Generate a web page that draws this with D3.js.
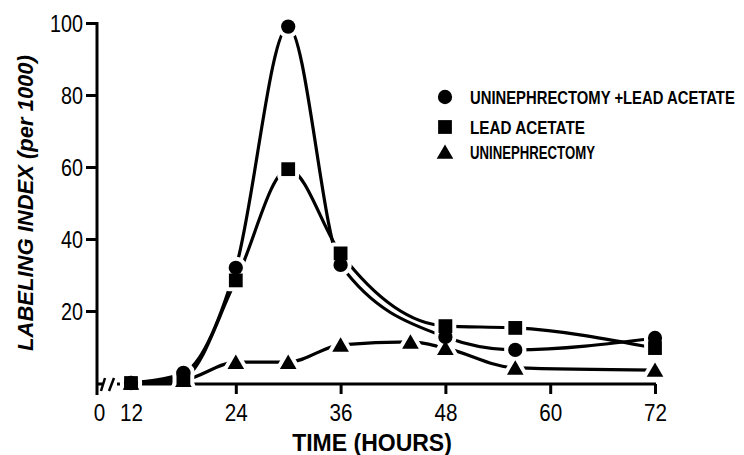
<!DOCTYPE html>
<html>
<head>
<meta charset="utf-8">
<script src="https://cdn.jsdelivr.net/npm/d3@7"></script>
<style>
    body { margin: 0; background: #fff; }
    svg { display: block; }
    text { fill: #000; font-family: "Liberation Sans Narrow", "Liberation Sans", Arial, sans-serif; }
</style>
</head>
<body>
<div id="chart"></div>
<script>
// ============================================
// Labeling index vs time, three treatment groups
// ============================================

const hours = [12, 18, 24, 30, 36, 48, 56, 72];
const uniLead = [0, 2.8, 32, 99, 32.8, 12.8, 9.2, 12.5];
const leadOnly = [0, 1.5, 28.5, 59.4, 36, 15.8, 15.3, 9.7];

const uniHours = [12, 18, 24, 30, 36, 44, 48, 56, 72];
const uniOnly = [0, 0.8, 5.8, 5.8, 10.6, 11.4, 9.7, 4.2, 3.6];

const xTicks = [0, 12, 24, 36, 48, 60, 72];
const yTicks = [20, 40, 60, 80, 100];

const legendLabels = ['UNINEPHRECTOMY +LEAD ACETATE', 'LEAD ACETATE', 'UNINEPHRECTOMY'];

const width = 744;
const height = 455;

const svg = d3.select('#chart')
    .append('svg')
    .attr('width', width)
    .attr('height', height);

// the axis is broken between 0 and 12
const x = d3.scaleLinear().domain([0, 12, 72]).range([97, 131, 655]);
const y = d3.scaleLinear().domain([0, 100]).range([383, 23]);

const ink = '#000';

// squeeze a text horizontally to a given width (keeps its box honest)
function fitText(sel, px, py, target, rotate = 0) {
    sel.attr('x', 0).attr('y', 0);
    const w = sel.node().getComputedTextLength();
    const k = Math.min(1, target / w);
    sel.attr('transform', `translate(${px},${py}) rotate(${rotate}) scale(${k},1)`);
}

// Axes
const yAxis = svg.append('g')
    .attr('transform', `translate(${x(0)},0)`)
    .call(d3.axisLeft(y).tickValues(yTicks).tickSize(11).tickPadding(3).tickSizeOuter(0));
yAxis.select('.domain').remove();
yAxis.selectAll('line').attr('stroke', ink).attr('stroke-width', 3);
yAxis.selectAll('.tick text')
    .attr('dy', 0)
    .style('font-size', '23px')
    .each(function (d) {
        fitText(d3.select(this), -14, 8, String(d).length * 11);
    });

svg.append('line')
    .attr('x1', x(0)).attr('x2', x(0))
    .attr('y1', y(100) - 1).attr('y2', 395)
    .attr('stroke', ink).attr('stroke-width', 3);

const xAxis = svg.append('g')
    .attr('transform', `translate(0,384)`)
    .call(d3.axisBottom(x).tickValues(xTicks).tickSize(10).tickSizeOuter(0).tickFormat(d3.format('d')));
xAxis.select('.domain').remove();
xAxis.selectAll('line').attr('stroke', ink).attr('stroke-width', 3);
xAxis.selectAll('.tick text')
    .attr('dy', 0)
    .style('font-size', '23px')
    .each(function (d) {
        fitText(d3.select(this), d === 0 ? 2 : 0, 37, String(d).length * 11.5);
    });
xAxis.selectAll('.tick').filter(d => d === 0).select('line').remove();

// x axis line with break marks
svg.append('line')
    .attr('x1', x(0)).attr('x2', 103).attr('y1', 384).attr('y2', 384)
    .attr('stroke', ink).attr('stroke-width', 3);
svg.append('line')
    .attr('x1', 117).attr('x2', x(72) + 1).attr('y1', 384).attr('y2', 384)
    .attr('stroke', ink).attr('stroke-width', 3);
[[101, 105], [109, 114]].forEach(([a, b]) => {
    svg.append('line')
        .attr('x1', a).attr('y1', 391).attr('x2', b).attr('y2', 378)
        .attr('stroke', ink).attr('stroke-width', 2.5);
});

// Axis titles
const xTitle = svg.append('text')
    .attr('text-anchor', 'middle')
    .style('font-size', '23px').style('font-weight', 'bold')
    .text('TIME (HOURS)');
fitText(xTitle, 372, 451, 160);

const yTitle = svg.append('text')
    .attr('text-anchor', 'middle')
    .style('font-size', '22px').style('font-weight', 'bold').style('font-style', 'italic')
    .text('LABELING INDEX (per 1000)');
fitText(yTitle, 33, 203, 307, -90);

// Series
const series = [
    { xs: hours, ys: uniLead, shape: d3.symbolCircle, size: 160 },
    { xs: hours, ys: leadOnly, shape: d3.symbolSquare, size: 190 },
    { xs: uniHours, ys: uniOnly, shape: d3.symbolTriangle, size: 120 }
];

const line = d3.line()
    .x(d => x(d[0]))
    .y(d => y(d[1]))
    .curve(d3.curveMonotoneX);

const lineLayer = svg.append('g');
const haloLayer = svg.append('g');
const markLayer = svg.append('g');

const place = (s, px, py) => `translate(${px},${py + (s.shape === d3.symbolTriangle ? 2 : 0)})`;

series.forEach(s => {
    const pts = s.xs.map((h, i) => [h, s.ys[i]]);
    lineLayer.append('path')
        .datum(pts)
        .attr('d', line)
        .attr('fill', 'none')
        .attr('stroke', ink)
        .attr('stroke-width', 3.2)
        .attr('stroke-linecap', 'round');

    // white halo leaves the small gaps around each marker
    haloLayer.selectAll(null)
        .data(pts)
        .join('path')
        .attr('transform', d => place(s, x(d[0]), y(d[1])))
        .attr('d', d3.symbol(s.shape, s.size))
        .attr('fill', '#fff')
        .attr('stroke', '#fff')
        .attr('stroke-width', 8)
        .attr('stroke-linejoin', 'round');
});

// triangles under squares under circles
series.slice().reverse().forEach(s => {
    const pts = s.xs.map((h, i) => [h, s.ys[i]]);
    markLayer.append('g')
        .selectAll('path')
        .data(pts)
        .join('path')
        .attr('transform', d => place(s, x(d[0]), y(d[1])))
        .attr('d', d3.symbol(s.shape, s.size))
        .attr('fill', ink);
});

// Legend
const legend = svg.append('g');
const legendRows = [97, 127, 152];
const legendWidths = [265, 115, 125];
series.forEach((s, i) => {
    legend.append('path')
        .attr('transform', place(s, 445, legendRows[i]))
        .attr('d', d3.symbol(s.shape, s.size))
        .attr('fill', ink);
    const t = legend.append('text')
        .style('font-size', '19px').style('font-weight', 'bold')
        .text(legendLabels[i]);
    fitText(t, 470, legendRows[i] + 7, legendWidths[i]);
});
</script>
</body>
</html>
